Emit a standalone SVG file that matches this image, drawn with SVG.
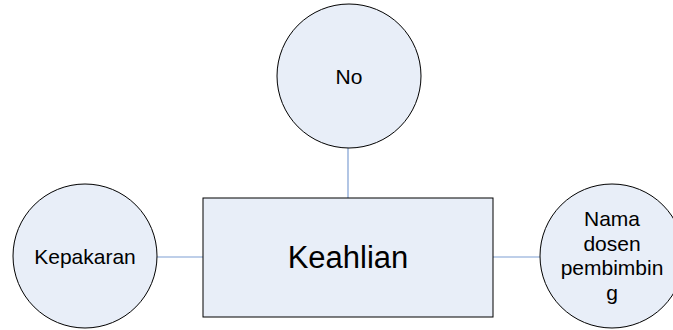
<svg xmlns="http://www.w3.org/2000/svg" width="673" height="330" viewBox="0 0 673 330">
<style>
.node{fill:#E8EEF8;stroke:#000;stroke-width:1}
.conn{stroke:#7F9FD3;stroke-width:1.2;fill:none}
.t{font-family:"Liberation Sans",Arial,sans-serif;fill:#000;text-anchor:middle}
.s{font-size:21px}
.l{font-size:31px}
</style>
<rect width="673" height="330" fill="#fff"/>
<g id="connectors">
<line class="conn" x1="348" y1="148" x2="348" y2="198"/>
<line class="conn" x1="157" y1="257" x2="203" y2="257"/>
<line class="conn" x1="493" y1="257" x2="540" y2="257"/>
</g>
<g id="no">
<circle class="node" cx="349" cy="76" r="72"/>
<text class="t s" x="349" y="84">No</text>
</g>
<g id="kepakaran">
<circle class="node" cx="85" cy="256" r="72"/>
<text class="t s" x="85" y="264">Kepakaran</text>
</g>
<g id="keahlian">
<rect class="node" x="203" y="198" width="290" height="119"/>
<text class="t l" x="348" y="268">Keahlian</text>
</g>
<g id="nama">
<circle class="node" cx="612" cy="256" r="72"/>
<text class="t s" x="612" y="226">Nama</text>
<text class="t s" x="612" y="250.5">dosen</text>
<text class="t s" x="612" y="275">pembimbin</text>
<text class="t s" x="612" y="299.5">g</text>
</g>
</svg>
